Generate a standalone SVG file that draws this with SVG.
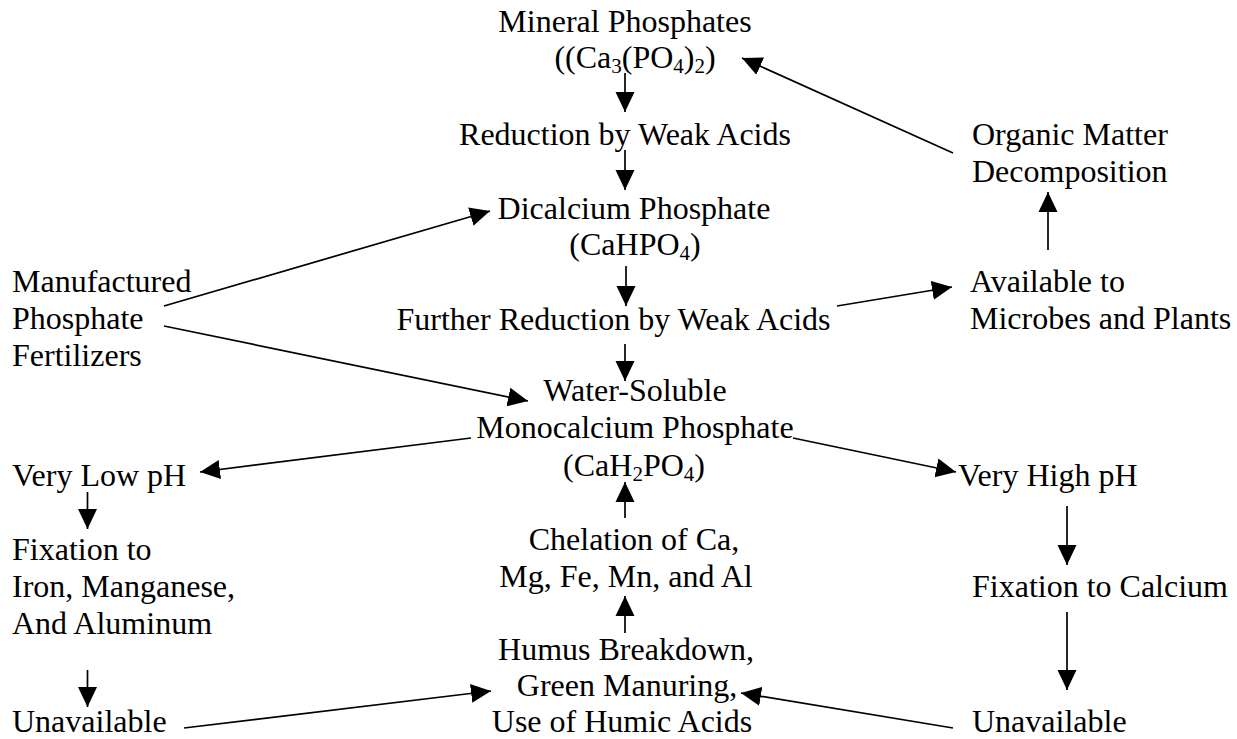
<svg xmlns="http://www.w3.org/2000/svg" width="1237" height="739" viewBox="0 0 1237 739">
  <defs>
    <style>
      text { font-family: "Liberation Serif", "Times New Roman", serif; font-size: 32px; fill: #000; }
      .c { text-anchor: middle; }
      .sub { font-size: 21px; }
      .edge { stroke: #000; stroke-width: 1.7; fill: none; marker-end: url(#ah); }
    </style>
    <marker id="ah" markerUnits="userSpaceOnUse" viewBox="0 0 20 20" markerWidth="20" markerHeight="20" refX="20" refY="10" orient="auto">
      <path d="M0,0.5 L20,10 L0,19.5 Z" fill="#000"/>
    </marker>
  </defs>
  <rect width="1237" height="739" fill="#fff"/>

  <!-- connectors -->
  <g id="connectors">
    <line class="edge" x1="625" y1="73" x2="625" y2="112"/>
    <line class="edge" x1="625" y1="150" x2="625" y2="190"/>
    <line class="edge" x1="626" y1="266" x2="626" y2="306"/>
    <line class="edge" x1="625" y1="344" x2="625" y2="381"/>
    <line class="edge" x1="164" y1="306" x2="490" y2="211"/>
    <line class="edge" x1="164" y1="326" x2="528" y2="401"/>
    <line class="edge" x1="837" y1="306" x2="952" y2="287"/>
    <line class="edge" x1="1048" y1="250" x2="1048" y2="192"/>
    <line class="edge" x1="953" y1="153" x2="742" y2="58"/>
    <line class="edge" x1="471" y1="438" x2="200" y2="472"/>
    <line class="edge" x1="793" y1="438" x2="956" y2="472"/>
    <line class="edge" x1="87.5" y1="492" x2="87.5" y2="529"/>
    <line class="edge" x1="87.5" y1="670" x2="87.5" y2="707"/>
    <line class="edge" x1="184" y1="728" x2="491" y2="691"/>
    <line class="edge" x1="625" y1="518" x2="625" y2="482"/>
    <line class="edge" x1="625" y1="633" x2="625" y2="596"/>
    <line class="edge" x1="1067" y1="506" x2="1067" y2="565"/>
    <line class="edge" x1="1067" y1="612" x2="1067" y2="690"/>
    <line class="edge" x1="953" y1="728" x2="741" y2="693"/>
  </g>

  <!-- centre column -->
  <g id="mineral-phosphates">
    <text class="c" x="625" y="32">Mineral Phosphates</text>
    <text class="c" x="635" y="68">((Ca<tspan class="sub" dy="5">3</tspan><tspan dy="-5">(PO</tspan><tspan class="sub" dy="5">4</tspan><tspan dy="-5">)</tspan><tspan class="sub" dy="5">2</tspan><tspan dy="-5">)</tspan></text>
  </g>
  <g id="reduction">
    <text class="c" x="625" y="145">Reduction by Weak Acids</text>
  </g>
  <g id="dicalcium-phosphate">
    <text class="c" x="634" y="219">Dicalcium Phosphate</text>
    <text class="c" x="635" y="255">(CaHPO<tspan class="sub" dy="5">4</tspan><tspan dy="-5">)</tspan></text>
  </g>
  <g id="further-reduction">
    <text class="c" x="613.5" y="330">Further Reduction by Weak Acids</text>
  </g>
  <g id="monocalcium-phosphate">
    <text class="c" x="635" y="401">Water-Soluble</text>
    <text class="c" x="635" y="438">Monocalcium Phosphate</text>
    <text class="c" x="634" y="476">(CaH<tspan class="sub" dy="5">2</tspan><tspan dy="-5">PO</tspan><tspan class="sub" dy="5">4</tspan><tspan dy="-5">)</tspan></text>
  </g>
  <g id="chelation">
    <text class="c" x="634" y="550">Chelation of Ca,</text>
    <text class="c" x="626" y="587">Mg, Fe, Mn, and Al</text>
  </g>
  <g id="humus">
    <text class="c" x="626" y="660">Humus Breakdown,</text>
    <text class="c" x="627" y="696">Green Manuring,</text>
    <text class="c" x="622" y="732">Use of Humic Acids</text>
  </g>

  <!-- left column -->
  <g id="fertilizers">
    <text x="12" y="292">Manufactured</text>
    <text x="12" y="329">Phosphate</text>
    <text x="12" y="366">Fertilizers</text>
  </g>
  <g id="low-ph">
    <text x="12" y="486">Very Low pH</text>
  </g>
  <g id="fixation-fe-mn-al">
    <text x="12" y="560">Fixation to</text>
    <text x="12" y="597">Iron, Manganese,</text>
    <text x="12" y="634">And Aluminum</text>
  </g>
  <g id="unavailable-left">
    <text x="12" y="732">Unavailable</text>
  </g>

  <!-- right column -->
  <g id="organic-matter">
    <text x="972" y="145">Organic Matter</text>
    <text x="972" y="182">Decomposition</text>
  </g>
  <g id="available">
    <text x="970" y="292">Available to</text>
    <text x="970" y="329">Microbes and Plants</text>
  </g>
  <g id="high-ph">
    <text x="958" y="486">Very High pH</text>
  </g>
  <g id="fixation-ca">
    <text x="972" y="597">Fixation to Calcium</text>
  </g>
  <g id="unavailable-right">
    <text x="972" y="732">Unavailable</text>
  </g>
</svg>
